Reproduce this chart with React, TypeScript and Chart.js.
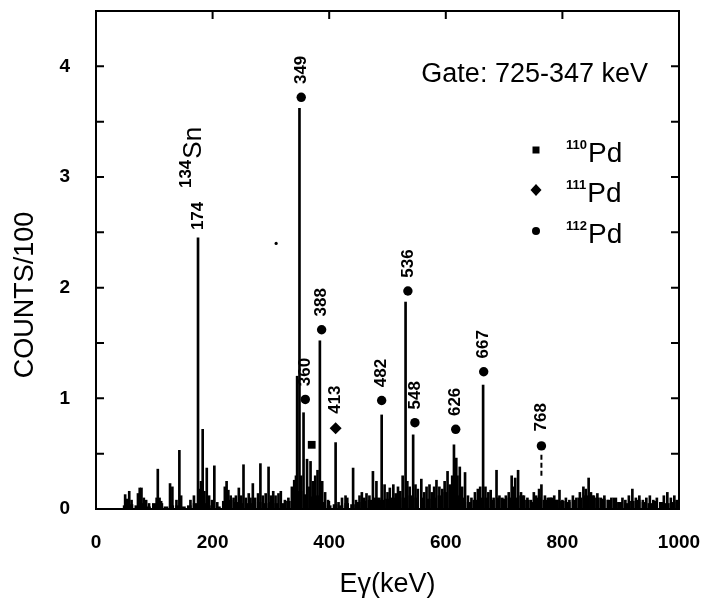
import React, { useEffect, useRef } from 'react';
import { Chart, registerables } from 'chart.js';

Chart.register(...registerables);

const FONT = '"Liberation Sans", Arial, Helvetica, sans-serif';

// Spectrum lines (energy keV, counts/100)
const lineEnergies = [
  50, 53, 57, 61, 72, 75, 78, 82, 86, 91,
  104, 106, 109, 113, 127, 131, 138, 143, 146, 162,
  168, 175, 178, 180, 183, 186, 190, 194, 199, 203,
  208, 221, 224, 227, 231, 236, 240, 245, 249, 253,
  257, 262, 265, 269, 273, 278, 282, 286, 291, 296,
  300, 304, 308, 313, 317, 324, 330, 336, 340, 343,
  345, 349, 352, 356, 362, 366, 368, 372, 376, 380,
  384, 388, 393, 398, 411, 416, 422, 428, 431, 441,
  446, 452, 456, 460, 464, 469, 475, 481, 486, 490,
  495, 500, 504, 510, 514, 518, 522, 526, 531, 534,
  538, 544, 548, 552, 558, 563, 567, 572, 576, 580,
  584, 589, 594, 598, 603, 607, 611, 614, 618, 620,
  624, 628, 633, 638, 644, 650, 655, 659, 664, 668,
  673, 677, 682, 687, 692, 697, 703, 708, 713, 716,
  719, 724, 729, 734, 740, 746, 751, 755, 760, 764,
  770, 775, 780, 786, 790, 795, 800, 806, 812, 818,
  824, 830, 836, 840, 845, 849, 854, 860, 866, 872,
  878, 884, 890, 896, 903, 908, 914, 920, 926, 932,
  938, 944, 950, 956, 962, 968, 974, 980, 986, 992,
  996,
];
const lineCounts = [
  0.13, 0.09, 0.16, 0.08, 0.14, 0.19, 0.19, 0.10, 0.08, 0.05,
  0.10, 0.36, 0.10, 0.05, 0.23, 0.20, 0.08, 0.53, 0.12, 0.08,
  0.12, 2.45, 0.18, 0.25, 0.72, 0.16, 0.37, 0.12, 0.08, 0.39,
  0.06, 0.20, 0.25, 0.17, 0.12, 0.10, 0.12, 0.19, 0.12, 0.40,
  0.10, 0.14, 0.10, 0.23, 0.10, 0.14, 0.41, 0.12, 0.14, 0.38,
  0.12, 0.16, 0.12, 0.14, 0.16, 0.08, 0.10, 0.20, 0.26, 0.30,
  1.20, 3.62, 0.30, 0.87, 0.45, 0.20, 0.43, 0.25, 0.30, 0.35,
  1.52, 0.25, 0.15, 0.08, 0.60, 0.06, 0.10, 0.12, 0.10, 0.37,
  0.08, 0.12, 0.15, 0.10, 0.14, 0.12, 0.34, 0.25, 0.10, 0.85,
  0.22, 0.15, 0.19, 0.22, 0.14, 0.20, 0.16, 0.30, 1.87, 0.25,
  0.20, 0.67, 0.22, 0.18, 0.27, 0.15, 0.20, 0.22, 0.15, 0.20,
  0.26, 0.20, 0.18, 0.25, 0.34, 0.22, 0.30, 0.58, 0.46, 0.30,
  0.38, 0.20, 0.33, 0.12, 0.10, 0.15, 0.18, 0.20, 1.12, 0.20,
  0.15, 0.17, 0.10, 0.35, 0.12, 0.10, 0.12, 0.15, 0.30, 0.20,
  0.28, 0.35, 0.15, 0.12, 0.10, 0.08, 0.15, 0.12, 0.18, 0.22,
  0.12, 0.10, 0.10, 0.12, 0.08, 0.17, 0.08, 0.10, 0.08, 0.12,
  0.10, 0.15, 0.20, 0.18, 0.28, 0.15, 0.12, 0.14, 0.10, 0.12,
  0.08, 0.10, 0.08, 0.06, 0.10, 0.08, 0.12, 0.18, 0.10, 0.12,
  0.08, 0.10, 0.12, 0.08, 0.10, 0.06, 0.12, 0.15, 0.10, 0.12,
  0.08,
];

// Background floor of the spectrum
const floorEnergies = [
  50, 60, 70, 80, 90, 100, 110, 120, 130, 140,
  150, 160, 170, 180, 190, 200, 210, 220, 230, 240,
  250, 260, 270, 280, 290, 300, 310, 320, 330, 340,
  350, 360, 370, 380, 390, 400, 410, 420, 430, 440,
  450, 460, 470, 480, 490, 500, 510, 520, 530, 540,
  550, 560, 570, 580, 590, 600, 610, 620, 630, 640,
  650, 660, 670, 680, 690, 700, 710, 720, 730, 740,
  750, 760, 770, 780, 790, 800, 810, 820, 830, 840,
  850, 860, 870, 880, 890, 900, 910, 920, 930, 940,
  950, 960, 970, 980, 990, 1000,
];
const floorCounts = [
  0.03, 0.04, 0.03, 0.05, 0.02, 0.05, 0.07, 0.02, 0.03, 0.03,
  0.02, 0.03, 0.05, 0.09, 0.05, 0.03, 0.02, 0.07, 0.08, 0.06,
  0.05, 0.05, 0.05, 0.06, 0.05, 0.06, 0.05, 0.05, 0.07, 0.13,
  0.16, 0.13, 0.11, 0.12, 0.06, 0.03, 0.04, 0.03, 0.05, 0.04,
  0.06, 0.07, 0.08, 0.10, 0.08, 0.09, 0.10, 0.10, 0.10, 0.12,
  0.10, 0.10, 0.09, 0.10, 0.12, 0.15, 0.14, 0.12, 0.10, 0.06,
  0.08, 0.10, 0.10, 0.08, 0.10, 0.09, 0.10, 0.10, 0.12, 0.08,
  0.06, 0.10, 0.08, 0.10, 0.08, 0.07, 0.06, 0.08, 0.10, 0.12,
  0.12, 0.10, 0.09, 0.08, 0.10, 0.06, 0.05, 0.07, 0.08, 0.06,
  0.05, 0.07, 0.06, 0.05, 0.06, 0.04,
];

// Isotope markers
const pd110E = [370];
const pd110Y = [0.58];
const pd111E = [411];
const pd111Y = [0.73];
const pd112E = [352, 359, 387, 490, 535, 547, 617, 665, 764];
const pd112Y = [3.72, 0.99, 1.62, 0.98, 1.97, 0.78, 0.72, 1.24, 0.57];

// Dashed segment under the 768 keV marker
const dashE = [764, 764];
const dashY = [0.30, 0.49];

// Stray dot
const strayE = [309];
const strayY = [2.40];

// Peak labels (rotated) and where they start
const peakLabels = ['174', '349', '360', '388', '413', '482', '536', '548', '626', '667', '768'];
const peakLabelE = [175, 352, 359, 387, 411, 490, 535, 547, 617, 665, 764];
const peakLabelY = [2.52, 3.84, 1.11, 1.74, 0.86, 1.10, 2.09, 0.90, 0.84, 1.36, 0.70];

const snLabelE = 175;
const snLabelY = 2.90;

const legendNames = ['110', '111', '112'];
const gateText = 'Gate: 725-347 keV';

const xTicks = [0, 200, 400, 600, 800, 1000];
const yTicks = [0, 1, 2, 3, 4];
const yMinorTicks = [0.5, 1.5, 2.5, 3.5];

const toXY = (xs: number[], ys: number[]) => xs.map((x, i) => ({ x, y: ys[i] }));

const decorPlugin = {
  id: 'decor',
  afterDraw(chart: any) {
    const { ctx, chartArea: a, scales } = chart;
    const x = scales.x;
    const y = scales.y;
    ctx.save();
    ctx.strokeStyle = '#000';
    ctx.fillStyle = '#000';

    // Frame
    ctx.lineWidth = 2;
    ctx.strokeRect(a.left, a.top, a.right - a.left, a.bottom - a.top);

    // Inward ticks
    ctx.lineWidth = 2;
    ctx.beginPath();
    [...yTicks, ...yMinorTicks].forEach((v) => {
      const py = y.getPixelForValue(v);
      ctx.moveTo(a.left, py);
      ctx.lineTo(a.left + 8, py);
      ctx.moveTo(a.right, py);
      ctx.lineTo(a.right - 8, py);
    });
    xTicks.forEach((v) => {
      const px = x.getPixelForValue(v);
      ctx.moveTo(px, a.top);
      ctx.lineTo(px, a.top + 8);
      ctx.moveTo(px, a.bottom);
      ctx.lineTo(px, a.bottom - 8);
    });
    ctx.stroke();

    // Rotated peak labels
    ctx.font = `bold 17px ${FONT}`;
    ctx.textAlign = 'left';
    ctx.textBaseline = 'middle';
    peakLabels.forEach((t, i) => {
      const px = x.getPixelForValue(peakLabelE[i]);
      const py = y.getPixelForValue(peakLabelY[i]);
      ctx.save();
      ctx.translate(px, py);
      ctx.rotate(-Math.PI / 2);
      ctx.fillText(t, 0, 0);
      ctx.restore();
    });

    // 134Sn
    {
      const px = x.getPixelForValue(snLabelE);
      const py = y.getPixelForValue(snLabelY);
      ctx.save();
      ctx.translate(px - 4, py);
      ctx.rotate(-Math.PI / 2);
      ctx.font = `bold 17px ${FONT}`;
      ctx.fillText('134', 0, -8);
      const w = ctx.measureText('134').width;
      ctx.font = `26px ${FONT}`;
      ctx.fillText('Sn', w + 1, 0);
      ctx.restore();
    }

    // Gate text
    ctx.font = `27px ${FONT}`;
    ctx.textAlign = 'right';
    ctx.textBaseline = 'middle';
    ctx.fillText(gateText, a.right - 31, a.top + 64);

    // Legend
    const lx = a.right - 143;
    const rows = [a.top + 139, a.top + 179, a.top + 220];
    rows.forEach((ry, i) => {
      ctx.beginPath();
      if (i === 0) {
        ctx.rect(lx - 3.5, ry - 3.5, 7, 7);
      } else if (i === 1) {
        ctx.moveTo(lx, ry - 6);
        ctx.lineTo(lx + 5.5, ry);
        ctx.lineTo(lx, ry + 6);
        ctx.lineTo(lx - 5.5, ry);
        ctx.closePath();
      } else {
        ctx.arc(lx, ry, 4, 0, Math.PI * 2);
      }
      ctx.fill();
      ctx.textAlign = 'left';
      ctx.textBaseline = 'alphabetic';
      ctx.font = `bold 13px ${FONT}`;
      ctx.fillText(legendNames[i], lx + 30, ry - 1);
      const sw = ctx.measureText(legendNames[i]).width;
      ctx.font = `28px ${FONT}`;
      ctx.fillText('Pd', lx + 30 + sw + 1, ry + 12);
    });

    // Axis titles
    ctx.font = `27px ${FONT}`;
    ctx.textAlign = 'center';
    ctx.textBaseline = 'middle';
    ctx.fillText('E\u03b3(keV)', (a.left + a.right) / 2, 585);
    ctx.save();
    ctx.translate(26, 295);
    ctx.rotate(-Math.PI / 2);
    ctx.fillText('COUNTS/100', 0, 0);
    ctx.restore();

    ctx.restore();
  },
};

export default function App() {
  const ref = useRef<HTMLCanvasElement | null>(null);

  useEffect(() => {
    if (!ref.current) return;
    const zeroPad = (s: any) => {
      s.paddingTop = 0;
      s.paddingBottom = 0;
      s.paddingLeft = 0;
      s.paddingRight = 0;
    };
    const chart = new Chart(ref.current, {
      type: 'bar',
      data: {
        datasets: [
          {
            type: 'bar',
            data: toXY(floorEnergies, floorCounts),
            backgroundColor: '#000',
            barThickness: 4,
            grouped: false,
            order: 3,
          } as any,
          {
            type: 'bar',
            data: toXY(lineEnergies, lineCounts),
            backgroundColor: '#000',
            barThickness: 2,
            grouped: false,
            order: 2,
          } as any,
          {
            type: 'line',
            data: toXY(dashE, dashY),
            borderColor: '#000',
            borderWidth: 2,
            borderDash: [5, 3],
            pointRadius: 0,
            order: 1,
          } as any,
          {
            type: 'scatter',
            data: toXY(pd112E, pd112Y),
            pointStyle: 'circle',
            pointRadius: 4.7,
            backgroundColor: '#000',
            borderColor: '#000',
            borderWidth: 0,
            order: 0,
          } as any,
          {
            type: 'scatter',
            data: toXY(pd111E, pd111Y),
            pointStyle: 'rectRot',
            pointRadius: 6,
            backgroundColor: '#000',
            borderColor: '#000',
            borderWidth: 0,
            order: 0,
          } as any,
          {
            type: 'scatter',
            data: toXY(pd110E, pd110Y),
            pointStyle: 'rect',
            pointRadius: 5.5,
            backgroundColor: '#000',
            borderColor: '#000',
            borderWidth: 0,
            order: 0,
          } as any,
          {
            type: 'scatter',
            data: toXY(strayE, strayY),
            pointStyle: 'circle',
            pointRadius: 1.6,
            backgroundColor: '#000',
            borderWidth: 0,
            order: 0,
          } as any,
        ],
      },
      options: {
        animation: false,
        responsive: false,
        devicePixelRatio: 1,
        events: [],
        layout: { padding: { left: 0, right: 23, top: 11, bottom: 0 } },
        plugins: { legend: { display: false }, tooltip: { enabled: false } },
        scales: {
          x: {
            type: 'linear',
            min: 0,
            max: 1000,
            offset: false,
            grid: { display: false },
            border: { display: false },
            afterBuildTicks: (s: any) => {
              s.ticks = xTicks.map((v) => ({ value: v }));
            },
            afterFit: (s: any) => {
              s.height = 92;
              zeroPad(s);
            },
            ticks: {
              color: '#000',
              font: { family: FONT, size: 19, weight: 'bold' },
              padding: 14,
              maxRotation: 0,
              autoSkip: false,
              callback: (v: any) => String(v),
            },
          },
          y: {
            type: 'linear',
            min: 0,
            max: 4.5,
            grid: { display: false },
            border: { display: false },
            afterBuildTicks: (s: any) => {
              s.ticks = yTicks.map((v) => ({ value: v }));
            },
            afterFit: (s: any) => {
              s.width = 96;
              zeroPad(s);
            },
            ticks: {
              color: '#000',
              font: { family: FONT, size: 19, weight: 'bold' },
              padding: 18,
              callback: (v: any) => String(v),
            },
          },
        },
      } as any,
      plugins: [decorPlugin],
    });
    return () => chart.destroy();
  }, []);

  return (
    <div style={{ position: 'absolute', left: 0, top: 0, width: 702, height: 601, background: '#fff' }}>
      <canvas ref={ref} width={702} height={601} style={{ width: 702, height: 601, display: 'block' }} />
    </div>
  );
}
